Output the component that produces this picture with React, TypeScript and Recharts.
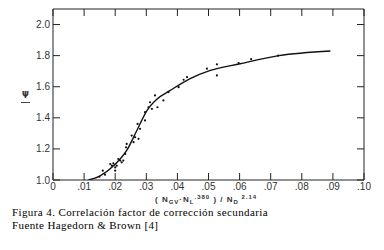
import React from "react";
import { ComposedChart, Line, Scatter, XAxis, YAxis } from "recharts";

// fitted curve
const curveX = [0.0114, 0.015, 0.0194, 0.0237, 0.027, 0.0302, 0.0334, 0.0377, 0.0441, 0.0506, 0.0602, 0.0726, 0.0892];
const curveY = [1.0, 1.025, 1.09, 1.19, 1.32, 1.447, 1.52, 1.576, 1.652, 1.705, 1.748, 1.8, 1.83];

// measured points
const obsX = [
  0.0149, 0.016, 0.0167, 0.0184, 0.0189, 0.0194, 0.02, 0.02, 0.0205, 0.021, 0.0216, 0.0221, 0.0226,
  0.0232, 0.0235, 0.0237, 0.0253, 0.0259, 0.0264, 0.0272, 0.0275, 0.028, 0.0296, 0.0296, 0.0307,
  0.0312, 0.0318, 0.0328, 0.0336, 0.0355, 0.0371, 0.0404, 0.042, 0.0431, 0.0495, 0.0527, 0.0527,
  0.0597, 0.0637, 0.0724,
];
const obsY = [
  1.021, 1.06, 1.034, 1.103, 1.092, 1.107, 1.081, 1.06, 1.092, 1.135, 1.125, 1.114, 1.125,
  1.168, 1.21, 1.232, 1.286, 1.243, 1.275, 1.361, 1.265, 1.329, 1.436, 1.383, 1.468,
  1.5, 1.458, 1.544, 1.468, 1.512, 1.565, 1.597, 1.645, 1.662, 1.716, 1.744, 1.673,
  1.752, 1.778, 1.8,
];

const xTicks = [0, 0.01, 0.02, 0.03, 0.04, 0.05, 0.06, 0.07, 0.08, 0.09, 0.1];
const xTickLabels = ["0", ".01", ".02", ".03", ".04", ".05", ".06", ".07", ".08", ".09", ".10"];
const yTicks = [1.0, 1.2, 1.4, 1.6, 1.8, 2.0];
const yTickLabels = ["1.0", "1.2", "1.4", "1.6", "1.8", "2.0"];

const curve = curveX.map((x, i) => ({ x, y: curveY[i] }));
const obs = obsX.map((x, i) => ({ x, y: obsY[i] }));

const INK = "#222";
const TICK = 7;
const labelFont = { fontFamily: "'Liberation Sans', Arial, sans-serif", fontSize: 10, fill: "#333" };

function BottomTick(props: any) {
  const { x, y, index } = props;
  return (
    <g>
      <line x1={x} x2={x} y1={y} y2={y - TICK} stroke={INK} strokeWidth={1} />
      <text x={x} y={y + 10} textAnchor="middle" {...labelFont}>
        {xTickLabels[index]}
      </text>
    </g>
  );
}

function TopTick(props: any) {
  const { x, y } = props;
  return <line x1={x} x2={x} y1={y} y2={y + TICK} stroke={INK} strokeWidth={1} />;
}

function LeftTick(props: any) {
  const { x, y, index } = props;
  return (
    <g>
      <line x1={x} x2={x + TICK} y1={y} y2={y} stroke={INK} strokeWidth={1} />
      <text x={x - 3} y={y + 3.5} textAnchor="end" {...labelFont}>
        {yTickLabels[index]}
      </text>
    </g>
  );
}

function RightTick(props: any) {
  const { x, y } = props;
  return <line x1={x} x2={x - TICK} y1={y} y2={y} stroke={INK} strokeWidth={1} />;
}

function Dot(props: any) {
  const { cx, cy } = props;
  return <circle cx={cx} cy={cy} r={1.1} fill="#111" />;
}

const sub = { fontSize: 6, position: "relative" as const, top: 2 };
const sup = { fontSize: 6, position: "relative" as const, top: -3 };

export default function App() {
  return (
    <div style={{ position: "fixed", left: 0, top: 0, width: 384, height: 250, background: "#fff" }}>
      <ComposedChart
        width={384}
        height={250}
        margin={{ top: 0, right: 10, bottom: 40, left: 23 }}
      >
        <XAxis
          xAxisId="b"
          type="number"
          dataKey="x"
          domain={[0, 0.1]}
          ticks={xTicks}
          allowDataOverflow
          height={30}
          tickSize={0}
          tickMargin={0}
          tick={<BottomTick />}
          tickLine={false}
          axisLine={{ stroke: INK, strokeWidth: 1 }}
          interval={0}
        />
        <XAxis
          xAxisId="t"
          orientation="top"
          type="number"
          dataKey="x"
          domain={[0, 0.1]}
          ticks={xTicks}
          allowDataOverflow
          height={9}
          tickSize={0}
          tickMargin={0}
          tick={<TopTick />}
          tickLine={false}
          axisLine={{ stroke: INK, strokeWidth: 1 }}
          interval={0}
        />
        <YAxis
          yAxisId="l"
          type="number"
          dataKey="y"
          domain={[1.0, 2.1]}
          ticks={yTicks}
          allowDataOverflow
          width={30}
          tickSize={0}
          tickMargin={0}
          tick={<LeftTick />}
          tickLine={false}
          axisLine={{ stroke: INK, strokeWidth: 1 }}
          interval={0}
        />
        <YAxis
          yAxisId="r"
          orientation="right"
          type="number"
          dataKey="y"
          domain={[1.0, 2.1]}
          ticks={yTicks}
          allowDataOverflow
          width={10}
          tickSize={0}
          tickMargin={0}
          tick={<RightTick />}
          tickLine={false}
          axisLine={{ stroke: INK, strokeWidth: 1 }}
          interval={0}
        />
        <Scatter
          xAxisId="t"
          yAxisId="r"
          data={obs}
          dataKey="y"
          shape={() => <g />}
          isAnimationActive={false}
        />
        <Line
          xAxisId="b"
          yAxisId="l"
          data={curve}
          dataKey="y"
          type="monotone"
          stroke="#111"
          strokeWidth={1.4}
          dot={false}
          activeDot={false}
          isAnimationActive={false}
        />
        <Scatter
          xAxisId="b"
          yAxisId="l"
          data={obs}
          dataKey="y"
          shape={<Dot />}
          isAnimationActive={false}
        />
      </ComposedChart>

      <div
        style={{
          position: "absolute",
          left: 21,
          top: 91,
          width: 9,
          fontFamily: "'DejaVu Sans', sans-serif",
          fontSize: 8,
          fontWeight: "bold",
          lineHeight: "9px",
          textAlign: "center",
          color: "#333",
          borderBottom: "1.2px solid #444",
          paddingBottom: 2,
        }}
      >
        Ψ
      </div>

      <div
        style={{
          position: "absolute",
          left: 155,
          top: 195,
          fontFamily: "'Liberation Sans', Arial, sans-serif",
          fontSize: 8,
          fontWeight: "bold",
          color: "#333",
          whiteSpace: "nowrap",
          lineHeight: "10px",
          letterSpacing: 1,
        }}
      >
        ( N<span style={sub}>GV</span>·N<span style={sub}>L</span>
        <span style={sup}>.380</span> ) / N<span style={sub}>D</span>
        <span style={sup}> 2.14</span>
      </div>

      <div
        style={{
          position: "absolute",
          left: 12,
          top: 206,
          fontFamily: "'Liberation Serif', 'Times New Roman', serif",
          fontSize: 11,
          letterSpacing: 0.4,
          lineHeight: "12.8px",
          color: "#000",
          whiteSpace: "nowrap",
        }}
      >
        Figura 4. Correlación factor de corrección secundaria
        <br />
        Fuente Hagedorn &amp; Brown [4]
      </div>
    </div>
  );
}
